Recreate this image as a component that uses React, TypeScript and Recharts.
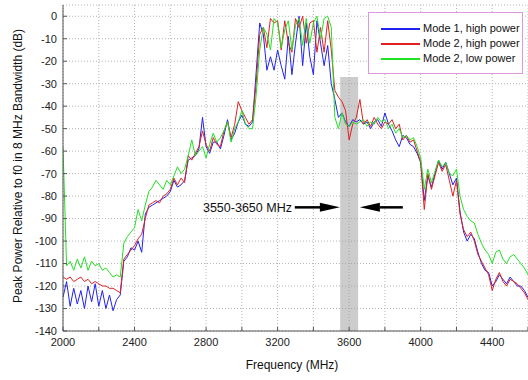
import React from 'react';
import {
  LineChart,
  Line,
  XAxis,
  YAxis,
  CartesianGrid,
  ReferenceArea,
  ReferenceLine,
  ReferenceDot,
  Legend,
} from 'recharts';

const FONT = '"Liberation Sans", Arial, Helvetica, sans-serif';

const freqs = [
  2000, 2020, 2040, 2060, 2080, 2100, 2120, 2140, 2160, 2180,
  2200, 2220, 2240, 2260, 2280, 2300, 2320, 2340, 2360, 2380,
  2400, 2420, 2440, 2460, 2480, 2500, 2520, 2540, 2560, 2580,
  2600, 2620, 2640, 2660, 2680, 2700, 2720, 2740, 2760, 2780,
  2800, 2820, 2840, 2860, 2880, 2900, 2920, 2940, 2960, 2980,
  3000, 3020, 3040, 3060, 3080, 3100, 3120, 3140, 3160, 3180,
  3200, 3220, 3240, 3260, 3280, 3300, 3320, 3340, 3360, 3380,
  3400, 3420, 3440, 3460, 3480, 3500, 3520, 3540, 3560, 3580,
  3600, 3620, 3640, 3660, 3680, 3700, 3720, 3740, 3760, 3780,
  3800, 3820, 3840, 3860, 3880, 3900, 3920, 3940, 3960, 3980,
  4000, 4020, 4040, 4060, 4080, 4100, 4120, 4140, 4160, 4180,
  4200, 4220, 4240, 4260, 4280, 4300, 4320, 4340, 4360, 4380,
  4400, 4420, 4440, 4460, 4480, 4500, 4520, 4540, 4560, 4580,
  4600,
];

const mode1High = [
  // 2000-2320
  -125, -118, -129, -121, -128, -122, -130, -120, -127, -119, -129, -122, -130, -124, -131, -126, -124,
  // 2340-3060
  -109, -107, -103, -104, -100, -105, -88, -85, -84, -83,
  -82, -81, -80, -78, -73, -76, -75, -73, -64, -63,
  -62, -59, -45, -58, -61, -56, -56, -59, -53, -46,
  -55, -52, -47, -44, -48, -49, -47,
  // 3080-3500
  -25, -3, -8, -24, -18, -24, -15, -22, -28, -9,
  -26, -12, 0, -22, -3, -18, -26, -2, -12, -22,
  -13, -30,
  // 3520-4000
  -37, -45, -43, -47, -49, -46, -47, -46, -48, -47,
  -50, -47, -46, -49, -43, -48, -51, -55, -58, -53,
  -54, -57, -58, -61, -65,
  // 4020-4600
  -82, -71, -76, -70, -64, -68, -65, -70, -75, -72,
  -87, -96, -100, -97, -99, -105, -110, -113, -114, -120,
  -118, -115, -117, -119, -116, -118, -120, -120, -122, -125,
];

const mode2High = [
  -116, -117, -116, -118, -117, -116, -118, -117, -119, -118, -119, -120, -120, -121, -121, -122, -123,
  -108, -106, -104, -102, -99, -97, -90, -84, -83, -82,
  -83, -80, -79, -77, -72, -75, -72, -74, -62, -64,
  -61, -58, -51, -57, -60, -54, -57, -58, -51, -47,
  -54, -48, -38, -42, -45, -48, -46,
  -30, -8, -5, -14, -1, -3, -2, -15, -2, -12,
  -16, -1, -5, 0, -12, -3, -2, -16, -5, -16,
  -2, -15,
  -33, -36, -38, -42, -55, -48, -45, -37, -48, -46,
  -49, -45, -48, -50, -47, -48, -46, -50, -48, -55,
  -53, -56, -55, -60, -65,
  -86, -70, -77, -71, -65, -69, -66, -73, -80, -73,
  -88, -95, -98, -96, -100, -106, -109, -112, -115, -122,
  -117, -114, -118, -120, -117, -118, -119, -121, -123, -126,
];

const mode2Low = [
  -58, -111, -109, -113, -108, -112, -107, -113, -109, -111, -110, -113, -112, -114, -116, -115, -116,
  -101, -98, -96, -94, -86, -91, -84, -78, -76, -73,
  -75, -77, -73, -75, -71, -67, -70, -68, -62, -55,
  -62, -60, -58, -63, -57, -52, -56, -54, -51, -47,
  -56, -50, -47, -42, -48, -50, -50,
  -35, -15, -5, -8, -15, -1, -3, -14, -6, -2,
  -15, -4, -1, -13, -1, -12, -3, 0, -10, -1,
  0, -5,
  -45, -50, -43, -48, -49, -47, -48, -47, -46, -49,
  -47, -48, -45, -47, -46, -50, -48, -52, -50, -54,
  -53, -55, -54, -58, -63,
  -77, -68, -74, -69, -64, -67, -65, -70, -71, -68,
  -80, -86, -89, -91, -92, -97, -101, -104, -106, -110,
  -105, -104, -108, -110, -107, -106, -108, -110, -112, -115,
];

const xTicks = [2000, 2200, 2400, 2600, 2800, 3000, 3200, 3400, 3600, 3800, 4000, 4200, 4400, 4600];
const xLabelTicks = [2000, 2400, 2800, 3200, 3600, 4000, 4400];
const yTicks = [-140, -130, -120, -110, -100, -90, -80, -70, -60, -50, -40, -30, -20, -10, 0];

const seriesNames = ['Mode 1, high power', 'Mode 2, high power', 'Mode 2, low power'];
const seriesColors = ['#2222ee', '#e02020', '#22e022'];

const bandRange = [3550, 3650];
const bandTop = -27;
const annotationText = '3550-3650 MHz';
const arrowY = -85;

const data = freqs.map((f, i) => ({
  f,
  m1h: mode1High[i],
  m2h: mode2High[i],
  m2l: mode2Low[i],
}));

const RightHead = (p: any) => (
  <polygon
    points={`${p.cx},${p.cy} ${p.cx - 20},${p.cy - 4.5} ${p.cx - 20},${p.cy + 4.5}`}
    fill="#000"
  />
);
const LeftHead = (p: any) => (
  <polygon
    points={`${p.cx},${p.cy} ${p.cx + 20},${p.cy - 4.5} ${p.cx + 20},${p.cy + 4.5}`}
    fill="#000"
  />
);
const AnnotationText = (p: any) => (
  <text
    x={p.cx}
    y={p.cy}
    dy="0.36em"
    textAnchor="end"
    fontSize={12.5}
    fontFamily={FONT}
    fill="#111"
  >
    {annotationText}
  </text>
);

const LegendBox = (props: any) => {
  const payload = props.payload || [];
  return (
    <div
      style={{
        position: 'relative',
        width: 155,
        height: 62,
        boxSizing: 'border-box',
        border: '1px solid #dd99dd',
        background: '#fff',
        fontFamily: FONT,
        fontSize: 11,
        color: '#111',
      }}
    >
      {payload.map((e: any, i: number) => (
        <div key={i} style={{ position: 'absolute', left: 0, top: 8 + i * 15, height: 15, width: 155 }}>
          <div
            style={{
              position: 'absolute',
              left: 12,
              top: 7,
              width: 39,
              height: 1.5,
              background: e.color,
            }}
          />
          <div style={{ position: 'absolute', left: 54, top: 0, lineHeight: '15px', whiteSpace: 'nowrap' }}>
            {e.value}
          </div>
        </div>
      ))}
    </div>
  );
};

export default function App() {
  return (
    <div
      style={{
        position: 'absolute',
        left: 0,
        top: 0,
        width: 528,
        height: 380,
        background: '#fff',
        fontFamily: FONT,
        overflow: 'hidden',
      }}
    >
      <LineChart width={528} height={380} data={data} margin={{ top: 5, right: 0, left: 0, bottom: 19 }}>
        <CartesianGrid stroke="#b5b5b5" strokeDasharray="1 2" />
        <ReferenceArea
          x1={bandRange[0]}
          x2={bandRange[1]}
          y1={-140}
          y2={bandTop}
          fill="#999"
          fillOpacity={0.5}
          stroke="none"
        />
        <XAxis
          type="number"
          dataKey="f"
          domain={[2000, 4600]}
          ticks={xTicks}
          interval={0}
          tickFormatter={(v: number) => (xLabelTicks.includes(v) ? String(v) : '')}
          height={30}
          tickSize={-4}
          tickMargin={11}
          stroke="#555"
          tick={{ fill: '#222', fontSize: 11, fontFamily: FONT }}
          allowDataOverflow
        />
        <XAxis
          xAxisId="top"
          orientation="top"
          type="number"
          dataKey="f"
          domain={[2000, 4600]}
          ticks={xTicks}
          interval={0}
          height={0}
          tickSize={-4}
          tick={false}
          stroke="#555"
          allowDataOverflow
        />
        <YAxis
          type="number"
          domain={[-140, 5]}
          ticks={yTicks}
          interval={0}
          width={63}
          tickSize={-4}
          tickMargin={10}
          stroke="#555"
          tick={{ fill: '#222', fontSize: 11, fontFamily: FONT }}
          allowDataOverflow
        />
        <YAxis
          yAxisId="right"
          orientation="right"
          type="number"
          domain={[-140, 5]}
          ticks={yTicks}
          interval={0}
          width={0}
          tickSize={-4}
          tick={false}
          stroke="#555"
          allowDataOverflow
        />
        <Line dataKey="m1h" name={seriesNames[0]} stroke={seriesColors[0]} strokeWidth={1} dot={false} isAnimationActive={false} />
        <Line dataKey="m2h" name={seriesNames[1]} stroke={seriesColors[1]} strokeWidth={1} dot={false} isAnimationActive={false} />
        <Line dataKey="m2l" name={seriesNames[2]} stroke={seriesColors[2]} strokeWidth={1} dot={false} isAnimationActive={false} />
        <ReferenceLine
          segment={[{ x: 3296, y: arrowY }, { x: 3440, y: arrowY }]}
          stroke="#000"
          strokeWidth={2.5}
        />
        <ReferenceLine
          segment={[{ x: 3770, y: arrowY }, { x: 3900, y: arrowY }]}
          stroke="#000"
          strokeWidth={2.5}
        />
        <ReferenceDot x={3548} y={arrowY} shape={RightHead} />
        <ReferenceDot x={3660} y={arrowY} shape={LeftHead} />
        <ReferenceDot x={3280} y={arrowY} shape={AnnotationText} />
        <Legend
          layout="vertical"
          align="center"
          verticalAlign="middle"
          wrapperStyle={{ position: 'absolute', left: 368, top: 12, width: 155, height: 62 }}
          content={(p: any) => <LegendBox {...p} />}
        />
      </LineChart>
      <div
        style={{
          position: 'absolute',
          left: 192,
          top: 358,
          width: 200,
          textAlign: 'center',
          fontSize: 12,
          lineHeight: '14px',
          color: '#111',
        }}
      >
        Frequency (MHz)
      </div>
      <div
        style={{
          position: 'absolute',
          left: 17.5 - 160,
          top: 165.5 - 7,
          width: 320,
          height: 14,
          textAlign: 'center',
          fontSize: 12,
          lineHeight: '14px',
          color: '#111',
          transform: 'rotate(-90deg)',
          whiteSpace: 'nowrap',
        }}
      >
        Peak Power Relative to f0 in 8 MHz Bandwidth (dB)
      </div>
    </div>
  );
}
